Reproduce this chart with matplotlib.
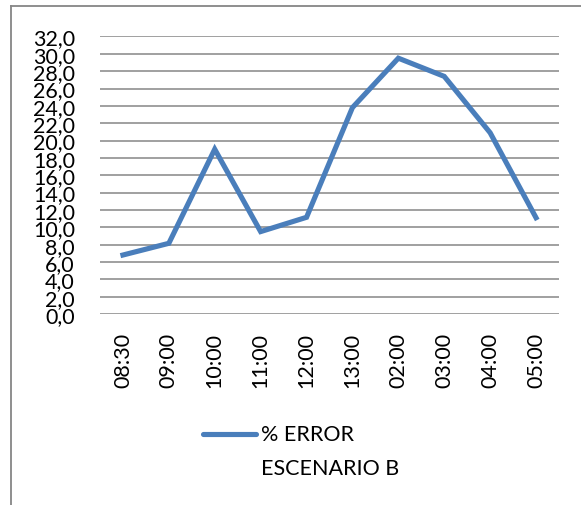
import matplotlib
matplotlib.use("Agg")
import matplotlib.pyplot as plt
from matplotlib.lines import Line2D

categories = ["08:30", "09:00", "10:00", "11:00", "12:00", "13:00", "02:00", "03:00", "04:00", "05:00"]
values = [6.8, 8.15, 19.0, 9.5, 11.15, 23.8, 29.5, 27.4, 20.9, 11.1]
yticks = list(range(0, 33, 2))
ytick_labels = [f"{v:.1f}".replace(".", ",") for v in yticks]
series_label_1 = "% ERROR"
series_label_2 = "ESCENARIO B"

plt.rcParams['font.family'] = ['Lato', 'DejaVu Sans']
color = "#4A7EBB"
grid_color = "#868686"
fs = 15.5

fig = plt.figure(figsize=(5.81, 5.06), dpi=100)
ax = fig.add_axes([0.1721, 0.3775, 0.79, 0.5484])

x = list(range(len(categories)))
ax.plot(x, values, color=color, linewidth=3.7, solid_joinstyle="miter", zorder=3)
ax.set_xlim(-0.5, len(categories) - 0.5)
ax.set_ylim(0, 32)
ax.set_yticks(yticks)
ax.set_yticklabels(ytick_labels, fontsize=fs)
ax.set_xticks(x)
ax.set_xticklabels(categories, rotation=90, fontsize=fs)
ax.tick_params(length=0)
ax.tick_params(axis='y', pad=18)
ax.tick_params(axis='x', pad=13)
for s in ax.spines.values():
    s.set_visible(False)
ax.yaxis.grid(True, color=grid_color, linewidth=1.1)
ax.set_axisbelow(True)

# outer frame (top and left edges)
fig.add_artist(Line2D([11/581, 1.0], [1 - 7/506, 1 - 7/506], transform=fig.transFigure, color=grid_color, linewidth=1.3))
fig.add_artist(Line2D([11/581, 11/581], [0, 1 - 7/506], transform=fig.transFigure, color=grid_color, linewidth=1.3))

# legend
fig.add_artist(Line2D([203/581, 256/581], [1 - 435/506, 1 - 435/506], transform=fig.transFigure,
                      color=color, linewidth=3.7, solid_capstyle="round"))
fig.text(261/581, 1 - 435/506, series_label_1, fontsize=fs, va="center", ha="left")
fig.text(261/581, 1 - 469/506, series_label_2, fontsize=fs, va="center", ha="left")

fig.savefig("out.png", dpi=100, facecolor="white")
